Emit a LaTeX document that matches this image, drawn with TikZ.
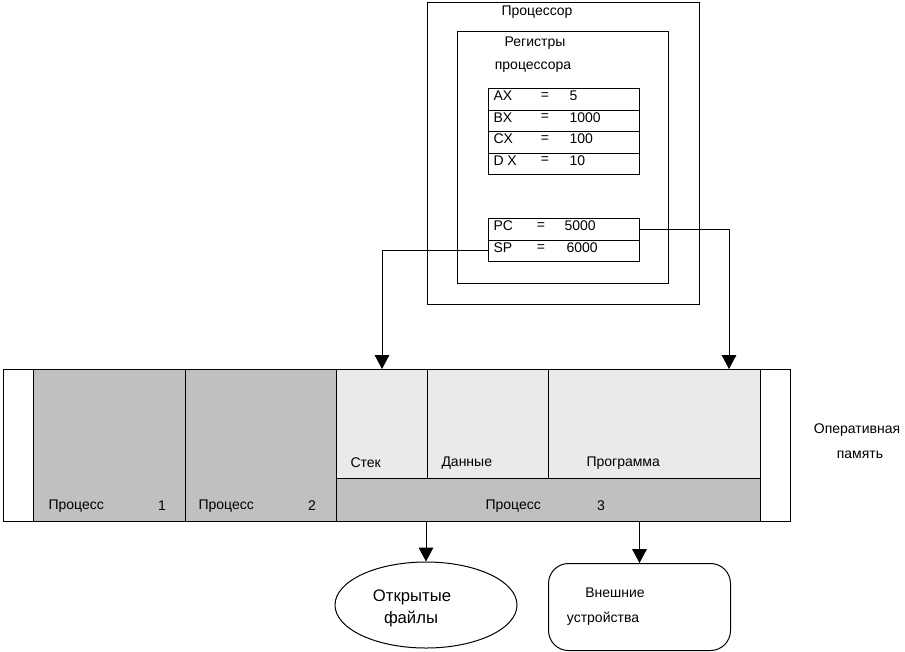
\documentclass[tikz,border=0pt]{standalone}
\usepackage{fontspec}
\setmainfont{Liberation Sans}
\usetikzlibrary{arrows.meta,shapes.geometric,positioning}
\definecolor{procgray}{RGB}{192,192,192}
\definecolor{cellgray}{RGB}{234,234,234}
\tikzset{
	cell/.style 2 args={draw, anchor=north west, inner sep=0pt, minimum width=#1*0.75pt, minimum height=#2*0.75pt},
	lbl/.style={inner sep=0pt, font=\fontsize{10.5}{12}\selectfont},
	biglbl/.style={inner sep=0pt, font=\fontsize{12.5}{14}\selectfont},
	tip/.style={-{Triangle[length=10.5pt,width=11pt]}}
}

\begin{document}
\begin{tikzpicture}[x=0.75pt,y=-0.75pt,line width=0.75pt]
	\useasboundingbox (0,0) rectangle (905,651);
	\node[cell={272}{302}] (cpu) at (427,2) {};
	\node[lbl] (cpuname) at (537,12) {Процессор};
	\node[cell={211}{252}] (regs) at (457,31) {};
	\node[lbl] (regsname) at (535,43) {Регистры};
	\node[lbl] (regsname2) at (533,67) {процессора};
	\foreach \r/\v [count=\i] in {AX/5,BX/1000,CX/100,D X/10}{
		\node[cell={151}{21.5}] (r\i) at (488,66.5+21.5*\i) {};
		\node[lbl,anchor=west] (rn\i) at (493,74.5+21.5*\i) {\r};
		\node[lbl] (re\i) at (545,74.5+21.5*\i) {=};
		\node[lbl,anchor=west] (rv\i) at (569,74.5+21.5*\i) {\v};
	}
	\node[cell={151}{21.5}] (pc) at (488,218) {};
	\node[lbl,anchor=west] (pcn) at (493,226) {PC};
	\node[lbl] (pce) at (541,226) {=};
	\node[lbl,anchor=west] (pcv) at (564,226) {5000};
	\node[cell={151}{21.5}] (sp) at (488,239.5) {};
	\node[lbl,anchor=west] (spn) at (493,248) {SP};
	\node[lbl] (spe) at (541,248) {=};
	\node[lbl,anchor=west] (spv) at (566,248) {6000};

	\node[cell={787}{152}] (ram) at (3,369) {};
	\node[cell={152}{152},fill=procgray] (p1) at (33,369) {};
	\node[cell={151}{152},fill=procgray] (p2) at (185,369) {};
	\node[cell={91}{109},fill=cellgray] (stack) at (336,369) {};
	\node[cell={121}{109},fill=cellgray] (data) at (427,369) {};
	\node[cell={212}{109},fill=cellgray] (prog) at (548,369) {};
	\node[cell={424}{43},fill=procgray] (p3) at (336,478) {};
	\node[lbl,anchor=west] (p1n) at (48,506) {Процесс};
	\node[lbl] (p1v) at (162,506) {1};
	\node[lbl,anchor=west] (p2n) at (198,506) {Процесс};
	\node[lbl] (p2v) at (312,506) {2};
	\node[lbl,anchor=west] (stackn) at (350,463) {Стек};
	\node[lbl,anchor=west] (datan) at (441,463) {Данные};
	\node[lbl,anchor=west] (progn) at (586,463) {Программа};
	\node[lbl,anchor=west] (p3n) at (485,506) {Процесс};
	\node[lbl] (p3v) at (601,506) {3};
	\node[lbl] (ramn) at (857,430) {Оперативная};
	\node[lbl] (ramn2) at (860,455) {память};

	\node[ellipse,draw,inner sep=0pt,minimum width=182*0.75pt,minimum height=86*0.75pt] (files) at (426,605) {};
	\node[biglbl] (filesn) at (412,597) {Открытые};
	\node[biglbl] (filesn2) at (411,619) {файлы};
	\node[cell={182}{87},rounded corners=15pt] (dev) at (548,563) {};
	\node[lbl] (devn) at (615,593) {Внешние};
	\node[lbl] (devn2) at (603,619) {устройства};

	\coordinate (pcin) at (729,369);
	\draw[tip] (sp.west) -| (stack.north);
	\draw[tip] (pc.east) -| (pcin);
	\draw[tip] (p3.south -| files.north) -- (files.north);
	\draw[tip] (p3.south -| dev.north) -- (dev.north);
\end{tikzpicture}
\end{document}
